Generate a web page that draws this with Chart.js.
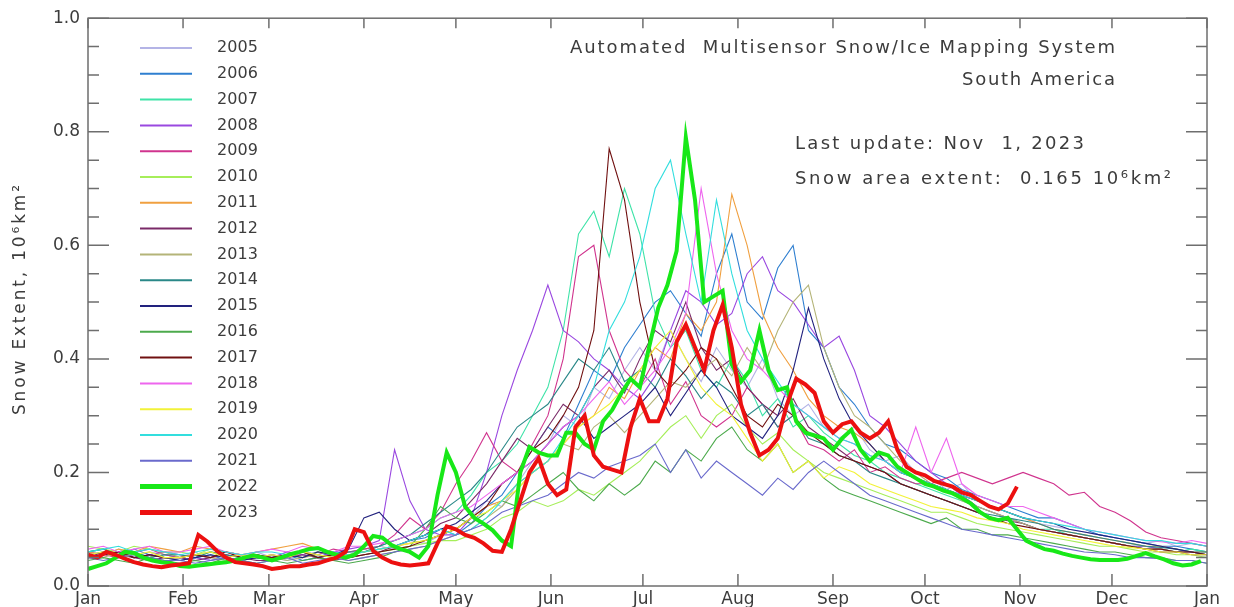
<!DOCTYPE html>
<html>

<head>
  <title>Snow Extent - South America</title>
  <script src="https://cdn.jsdelivr.net/npm/chart.js"></script>
  <style>
    body { margin: 0; background: #fff; overflow: hidden; }
  </style>
</head>

<body>
  <canvas id="myChart" width="1234" height="607"></canvas>
  <script>
    // day-of-year where each month starts, and the labels under them
    var monthDays = [0, 31, 59, 90, 120, 151, 181, 212, 243, 273, 304, 334, 365];
    var monthNames = ['Jan', 'Feb', 'Mar', 'Apr', 'May', 'Jun', 'Jul', 'Aug', 'Sep', 'Oct', 'Nov', 'Dec', 'Jan'];

    var years = ['2005', '2006', '2007', '2008', '2009', '2010', '2011', '2012', '2013', '2014',
      '2015', '2016', '2017', '2018', '2019', '2020', '2021', '2022', '2023'];
    var colors = ['#b4b4e6', '#2f7fd0', '#3fe3a8', '#9a48e0', '#d0348e', '#a6ee5a', '#f0a040', '#7a2a68',
      '#b4b478', '#2a8888', '#22227e', '#4caa4c', '#701010', '#ee66ee', '#f2f238', '#33dede', '#6a6acc',
      '#18e818', '#ec1010'];

    // snow extent, 10^6 km2, one value every 5 days (2005-2021), every 3 days (2022, 2023)
    var s2005 = [.06, .055, .065, .05, .06, .055, .05, .06, .045, .055, .05, .06, .05, .045, .055, .06, .05, .055,
      .06, .07, .065, .08, .075, .09, .1, .12, .15, .14, .18, .22, .25, .3, .28, .35, .33, .38,
      .42, .38, .45, .4, .36, .42, .38, .35, .4, .33, .3, .32, .28, .26, .28, .24, .22, .23, .2,
      .19, .17, .18, .15, .14, .13, .12, .11, .105, .1, .095, .09, .085, .08, .075, .08, .07, .075, .07];
    var s2006 = [.055, .06, .05, .065, .055, .05, .045, .05, .055, .045, .05, .048, .05, .055, .045, .05, .06, .055,
      .06, .065, .07, .08, .085, .1, .09, .11, .14, .16, .2, .24, .28, .26, .32, .38, .36, .42,
      .46, .5, .52, .48, .44, .55, .62, .5, .47, .56, .6, .45, .42, .35, .32, .28, .25, .24, .22,
      .2, .19, .17, .16, .15, .14, .13, .12, .12, .11, .1, .09, .085, .08, .075, .07, .07, .065, .06];
    var s2007 = [.06, .065, .055, .06, .05, .055, .05, .055, .06, .05, .045, .05, .055, .05, .06, .055, .05, .06,
      .065, .07, .08, .09, .1, .12, .13, .16, .2, .22, .25, .3, .35, .45, .62, .66, .58, .7,
      .62, .48, .42, .45, .38, .35, .4, .36, .3, .33, .28, .3, .27, .25, .23, .22, .2, .19, .18,
      .17, .16, .15, .14, .13, .12, .11, .1, .1, .09, .085, .08, .075, .07, .07, .065, .06, .065, .06];
    var s2008 = [.05, .055, .06, .05, .055, .06, .055, .05, .045, .05, .055, .05, .05, .06, .055, .05, .06, .065,
      .07, .08, .24, .15, .1, .09, .09, .12, .2, .3, .38, .45, .53, .45, .43, .4, .38, .35,
      .33, .37, .45, .52, .5, .46, .48, .55, .58, .52, .5, .46, .42, .44, .38, .3, .28, .25, .22,
      .2, .18, .16, .14, .13, .12, .11, .1, .095, .09, .085, .08, .075, .07, .07, .065, .06, .06, .055];
    var s2009 = [.06, .055, .05, .06, .065, .055, .05, .055, .05, .06, .055, .05, .055, .05, .06, .055, .065, .06,
      .065, .07, .09, .12, .1, .13, .18, .22, .27, .22, .2, .25, .3, .4, .58, .6, .45, .38,
      .35, .4, .32, .36, .3, .28, .3, .35, .32, .28, .3, .25, .24, .22, .24, .2, .21, .19, .18,
      .18, .19, .2, .19, .18, .19, .2, .19, .18, .16, .165, .14, .13, .115, .095, .085, .08, .075, .07];
    var s2010 = [.07, .065, .06, .07, .065, .06, .06, .055, .065, .06, .055, .05, .05, .055, .05, .06, .055, .05,
      .055, .06, .065, .07, .075, .08, .08, .09, .1, .12, .13, .15, .14, .15, .17, .16, .18, .2,
      .22, .25, .28, .3, .26, .3, .32, .28, .25, .27, .24, .22, .2, .19, .18, .17, .16, .15, .14,
      .13, .13, .12, .11, .105, .1, .095, .09, .085, .08, .075, .07, .07, .065, .06, .06, .055, .055, .05];
    var s2011 = [.06, .055, .065, .06, .07, .065, .06, .07, .065, .06, .055, .06, .065, .07, .075, .065, .06, .055,
      .06, .065, .07, .075, .08, .09, .1, .12, .14, .15, .18, .2, .22, .25, .28, .3, .35, .33,
      .38, .42, .4, .48, .45, .5, .69, .6, .48, .42, .38, .33, .3, .28, .27, .25, .22, .2, .19,
      .18, .17, .16, .15, .14, .13, .12, .11, .1, .095, .09, .085, .08, .075, .07, .07, .065, .06, .06];
    var s2012 = [.05, .06, .055, .05, .045, .05, .05, .045, .05, .055, .05, .045, .045, .05, .055, .05, .045, .05,
      .055, .06, .07, .08, .09, .11, .12, .15, .18, .22, .26, .24, .28, .32, .3, .35, .38, .34,
      .4, .45, .43, .5, .42, .38, .4, .35, .32, .3, .33, .28, .26, .24, .22, .21, .2, .18, .17,
      .16, .15, .14, .13, .12, .115, .11, .1, .095, .09, .085, .08, .075, .07, .065, .06, .06, .055, .055];
    var s2013 = [.055, .05, .06, .055, .05, .06, .05, .055, .05, .045, .05, .055, .05, .045, .05, .055, .05, .045,
      .05, .055, .06, .065, .07, .08, .09, .1, .12, .14, .17, .2, .22, .25, .24, .28, .3, .27,
      .3, .33, .36, .35, .38, .4, .37, .42, .38, .45, .5, .53, .42, .35, .3, .28, .25, .22, .2,
      .18, .17, .15, .14, .13, .12, .11, .1, .095, .09, .085, .08, .075, .07, .065, .065, .06, .06, .055];
    var s2014 = [.06, .065, .055, .06, .05, .055, .055, .05, .06, .055, .05, .055, .05, .055, .06, .05, .055, .06,
      .06, .07, .08, .09, .11, .13, .15, .17, .2, .24, .28, .3, .32, .36, .4, .38, .42, .36,
      .38, .35, .4, .37, .33, .36, .34, .3, .32, .28, .3, .26, .25, .23, .22, .2, .19, .18, .17,
      .16, .15, .14, .13, .125, .12, .115, .11, .1, .095, .09, .085, .08, .075, .07, .068, .065, .06, .06];
    var s2015 = [.05, .055, .06, .05, .055, .05, .045, .05, .055, .05, .045, .05, .05, .055, .05, .06, .055, .065,
      .12, .13, .1, .08, .09, .1, .11, .13, .15, .18, .2, .22, .25, .28, .3, .26, .28, .3,
      .32, .35, .3, .34, .38, .35, .3, .28, .26, .3, .38, .49, .4, .33, .28, .25, .22, .2, .19,
      .18, .17, .16, .15, .14, .13, .12, .115, .11, .1, .095, .09, .085, .08, .075, .07, .065, .06, .055];
    var s2016 = [.045, .05, .045, .04, .05, .045, .04, .045, .04, .05, .045, .04, .045, .04, .045, .05, .045, .04,
      .045, .05, .06, .07, .1, .14, .12, .11, .13, .15, .14, .16, .18, .2, .17, .15, .18, .16,
      .18, .22, .2, .24, .22, .26, .28, .24, .22, .25, .2, .22, .19, .17, .16, .15, .14, .13, .12,
      .11, .12, .1, .1, .09, .09, .085, .08, .075, .07, .065, .06, .06, .055, .05, .05, .045, .045, .04];
    var s2017 = [.05, .055, .06, .05, .055, .05, .05, .055, .05, .06, .05, .055, .05, .055, .06, .05, .055, .05,
      .055, .06, .065, .07, .08, .09, .1, .12, .14, .18, .2, .24, .26, .3, .35, .45, .77, .68,
      .5, .38, .35, .38, .42, .4, .35, .3, .28, .32, .3, .27, .25, .23, .22, .21, .2, .18, .17,
      .16, .15, .14, .13, .12, .11, .105, .1, .095, .09, .085, .08, .075, .07, .065, .065, .06, .06, .055];
    var s2018 = [.065, .07, .06, .065, .07, .06, .06, .065, .07, .06, .055, .06, .065, .06, .07, .065, .06, .07,
      .07, .075, .08, .09, .1, .12, .13, .14, .16, .18, .2, .22, .25, .28, .3, .33, .36, .32,
      .35, .38, .42, .48, .7, .55, .45, .4, .38, .35, .32, .3, .28, .26, .25, .23, .22, .2, .28,
      .2, .26, .18, .16, .15, .14, .14, .13, .12, .11, .1, .095, .09, .085, .08, .078, .075, .08, .075];
    var s2019 = [.055, .06, .05, .055, .06, .05, .05, .055, .06, .05, .055, .05, .055, .05, .06, .055, .05, .055,
      .06, .065, .07, .075, .08, .09, .1, .12, .13, .15, .17, .2, .22, .25, .28, .3, .32, .35,
      .38, .42, .45, .4, .35, .32, .3, .26, .22, .25, .2, .22, .19, .21, .2, .18, .17, .16, .15,
      .14, .135, .13, .12, .115, .11, .1, .095, .09, .085, .08, .075, .07, .068, .065, .06, .06, .055, .055];
    var s2020 = [.06, .065, .07, .06, .065, .06, .055, .06, .065, .06, .055, .06, .06, .055, .06, .065, .06, .055,
      .06, .065, .07, .08, .09, .1, .09, .1, .12, .15, .18, .2, .22, .26, .3, .35, .45, .5,
      .58, .7, .75, .62, .5, .68, .55, .45, .4, .36, .32, .3, .28, .26, .25, .23, .22, .2, .19,
      .18, .17, .16, .15, .14, .13, .12, .115, .11, .105, .1, .095, .09, .085, .08, .08, .075, .075, .07];
    var s2021 = [.05, .045, .05, .055, .05, .045, .045, .04, .045, .05, .045, .04, .045, .05, .04, .045, .05, .045,
      .05, .055, .06, .065, .07, .08, .09, .1, .11, .13, .14, .15, .16, .18, .2, .19, .21, .22,
      .23, .25, .2, .24, .19, .22, .2, .18, .16, .19, .17, .2, .22, .2, .18, .16, .15, .14, .13,
      .12, .11, .1, .095, .09, .085, .08, .075, .07, .065, .06, .058, .055, .05, .05, .048, .045, .045, .04];
    var s2022 = [.03, .035, .04, .05, .06, .058, .05, .045, .042, .04, .035, .034,
      .036, .038, .04, .042, .045, .05, .054, .05, .045, .05, .056, .06,
      .065, .067, .06, .055, .05, .055, .07, .088, .085, .072, .065, .06,
      .05, .07, .16, .235, .2, .14, .12, .11, .098, .08, .07, .2,
      .245, .235, .23, .23, .27, .27, .25, .24, .29, .31, .34, .365,
      .35, .42, .49, .53, .59, .79, .68, .5, .51, .52, .39, .36,
      .38, .45, .38, .345, .35, .29, .27, .265, .26, .24, .26, .275,
      .24, .22, .235, .23, .21, .2, .19, .18, .175, .168, .163, .155,
      .145, .13, .12, .116, .12, .1, .08, .072, .065, .062, .057, .053,
      .05, .047, .046, .046, .046, .048, .053, .058, .052, .047, .04, .036,
      .038, .044];
    var s2023 = [.055, .05, .06, .055, .048, .042, .038, .035, .033, .036, .038, .04,
      .09, .078, .062, .05, .042, .04, .038, .035, .03, .032, .035, .035,
      .038, .04, .045, .05, .06, .1, .095, .062, .05, .042, .038, .036,
      .038, .04, .075, .105, .1, .09, .085, .075, .062, .06, .1, .15,
      .2, .225, .18, .16, .17, .28, .3, .23, .21, .205, .2, .28,
      .33, .29, .29, .33, .43, .46, .42, .38, .45, .495, .42, .32,
      .27, .23, .24, .26, .32, .365, .355, .34, .29, .27, .285, .29,
      .27, .26, .27, .29, .24, .21, .2, .195, .185, .18, .175, .165,
      .16, .15, .14, .135, .145, .175];

    var series = [s2005, s2006, s2007, s2008, s2009, s2010, s2011, s2012, s2013, s2014,
      s2015, s2016, s2017, s2018, s2019, s2020, s2021, s2022, s2023];
    var stepDays = [5, 5, 5, 5, 5, 5, 5, 5, 5, 5, 5, 5, 5, 5, 5, 5, 5, 3, 3];

    var textColor = '#3c3c3c';
    var fontName = '"DejaVu Sans"';

    var datasets = years.map(function (yr, i) {
      var thick = yr === '2022' || yr === '2023';
      return {
        label: yr,
        data: series[i].map(function (v, j) { return { x: j * stepDays[i], y: v }; }),
        borderColor: colors[i],
        borderWidth: thick ? 4 : 1.1,
        pointRadius: 0,
        tension: 0,
        order: years.length - i
      };
    });

    // draw text stretched to a given width (the original uses a wide font)
    function fitText(ctx, txt, x, y, width, align) {
      ctx.letterSpacing = '0px';
      var w = ctx.measureText(txt).width;
      var sp = (width - w) / (txt.length - 1);
      ctx.letterSpacing = sp + 'px';
      ctx.textAlign = 'left';
      var left = align === 'right' ? x - width : x;
      ctx.fillText(txt, left, y);
      ctx.letterSpacing = '0px';
    }

    var decor = {
      id: 'decor',
      afterDraw: function (chart) {
        var ctx = chart.ctx, a = chart.chartArea;
        var xs = chart.scales.x, ys = chart.scales.y;
        ctx.save();
        ctx.strokeStyle = '#6e6e6e';
        ctx.lineWidth = 1.5;
        ctx.strokeRect(a.left, a.top, a.right - a.left, a.bottom - a.top);
        ctx.beginPath();
        monthDays.forEach(function (d) {
          var px = xs.getPixelForValue(d);
          ctx.moveTo(px, a.bottom); ctx.lineTo(px, a.bottom - 12);
          ctx.moveTo(px, a.top); ctx.lineTo(px, a.top + 10);
        });
        for (var k = 0; k <= 20; k++) {
          var py = ys.getPixelForValue(k * 0.05);
          var len = k % 4 === 0 ? 21 : 11;
          ctx.moveTo(a.left, py); ctx.lineTo(a.left + len, py);
          ctx.moveTo(a.right, py); ctx.lineTo(a.right - len, py);
        }
        ctx.stroke();

        // legend
        ctx.font = '16px ' + fontName;
        ctx.textBaseline = 'middle';
        chart.data.datasets.forEach(function (ds, i) {
          var ly = 48 + 25.8 * i;
          ctx.strokeStyle = ds.borderColor;
          ctx.lineWidth = ds.borderWidth > 2 ? 5 : 2;
          ctx.beginPath();
          ctx.moveTo(140, ly); ctx.lineTo(192, ly);
          ctx.stroke();
          ctx.fillStyle = textColor;
          fitText(ctx, ds.label, 217, ly, 41, 'left');
        });

        // annotations
        ctx.font = '18px ' + fontName;
        fitText(ctx, 'Automated  Multisensor Snow/Ice Mapping System', 1115, 48, 545, 'right');
        fitText(ctx, 'South America', 1115, 80, 153, 'right');
        fitText(ctx, 'Last update: Nov  1, 2023', 795, 144, 289, 'left');
        fitText(ctx, 'Snow area extent:  0.165 10\u2076km\u00b2', 795, 179, 376, 'left');

        // y axis title
        ctx.font = '17px ' + fontName;
        ctx.translate(21, 300);
        ctx.rotate(-Math.PI / 2);
        fitText(ctx, 'Snow Extent, 10\u2076km\u00b2', -115, 0, 230, 'left');
        ctx.restore();
      }
    };

    var ctx = document.getElementById('myChart').getContext('2d');
    var myChart = new Chart(ctx, {
      type: 'line',
      data: { datasets: datasets },
      options: {
        responsive: false,
        animation: false,
        devicePixelRatio: 1,
        layout: { padding: { top: 13, right: 27, left: 0, bottom: 0 } },
        plugins: { legend: { display: false }, tooltip: { enabled: false } },
        scales: {
          x: {
            type: 'linear',
            min: 0,
            max: 365,
            grid: { display: false, drawTicks: false },
            border: { display: false },
            afterBuildTicks: function (s) { s.ticks = monthDays.map(function (d) { return { value: d }; }); },
            afterFit: function (s) { s.height = 21; },
            ticks: {
              autoSkip: false,
              maxRotation: 0,
              padding: 3,
              color: textColor,
              font: { family: 'DejaVu Sans', size: 17 },
              callback: function (v) { return monthNames[monthDays.indexOf(v)]; }
            }
          },
          y: {
            min: 0,
            max: 1,
            grid: { display: false, drawTicks: false },
            border: { display: false },
            afterFit: function (s) { s.width = 88; },
            ticks: {
              stepSize: 0.2,
              padding: 8,
              color: textColor,
              font: { family: 'DejaVu Sans', size: 17 },
              callback: function (v) { return Number(v).toFixed(1); }
            }
          }
        }
      },
      plugins: [decor]
    });
  </script>
</body>

</html>
